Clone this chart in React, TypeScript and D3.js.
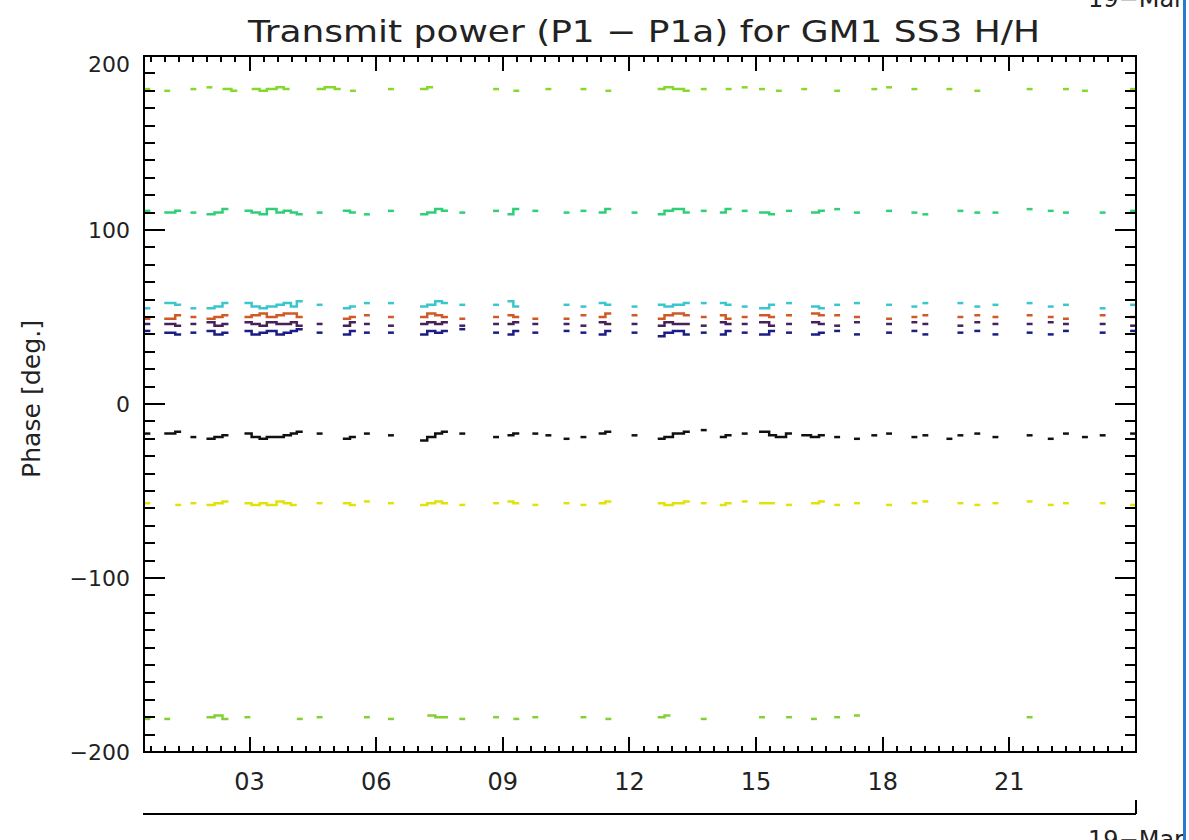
import * as d3 from "d3";

const W = 1189;
const H = 840;
const BOX = { left: 144, right: 1136, top: 56, bottom: 752 };

const N = null;

// sample times (hours of 19-Mar)
const hours = [
  0.58, 0.74, 1.05, 1.31, 1.67, 2.05, 2.24, 2.43, 2.64, 2.95,
  3.12, 3.31, 3.48, 3.71, 3.88, 4.05, 4.19, 4.66, 4.85, 5.09,
  5.28, 5.45, 5.78, 6.35, 7.11, 7.28, 7.47, 7.63, 8.04, 8.84,
  9.18, 9.32, 9.77, 10.08, 10.51, 10.91, 11.34, 11.5, 12.12, 12.74,
  12.9, 13.1, 13.36, 13.76, 14.21, 14.35, 14.73, 15.14, 15.38, 15.54,
  15.78, 16.14, 16.37, 16.56, 16.92, 17.39, 17.8, 18.15, 18.75, 19.01,
  19.58, 19.84, 20.24, 20.67, 21.48, 21.98, 22.34, 22.79, 23.21, 23.93,
];

const greenHigh = [
  181, N, 180, N, 181, 182, N, 181, 180, N,
  181, 180, 181, 182, 181, N, N, 181, 182, 181,
  N, 180, N, 181, 181, 182, N, N, N, 181,
  N, 180, N, 181, N, 181, N, 180, N, 181,
  182, 181, 180, 181, N, 181, 182, 181, N, 180,
  N, 181, N, N, 180, N, 181, 182, 181, N,
  181, N, 180, N, 181, N, 181, 180, N, 181,
];

const seaGreen = [
  111, N, 110, 111, 110, 109, 110, 112, N, 111,
  110, 109, 112, 110, 111, 110, 109, 110, N, N,
  111, 110, 109, 111, 109, 110, 112, 111, 110, 111,
  109, 112, 111, N, 110, 111, 110, 112, 110, 109,
  111, 112, 110, 111, 110, 112, 111, 110, 109, N,
  111, N, 110, 111, 112, 110, N, 111, 110, 109,
  N, 111, 110, 110, 112, 111, 110, N, 110, 111,
];

const cyan = [
  55, N, 58, 57, 55, 55, 56, 58, N, 58,
  56, 55, 56, 57, 58, 56, 59, 57, N, N,
  55, 56, 58, 58, 56, 57, 59, 58, 57, 57,
  59, 56, N, N, 57, 56, 58, 57, 56, 57,
  56, 57, 58, 58, 58, 57, 56, 55, 57, N,
  58, N, 56, 55, 57, 58, N, 57, 56, 58,
  N, 58, 56, 57, 58, 56, 57, N, 55, 57,
];

const orange = [
  49, N, 49, 51, 50, 49, 50, 51, N, 50,
  51, 52, 50, 51, 52, 52, 50, N, N, N,
  49, 50, 51, 50, 50, 52, 51, 50, 49, 50,
  51, 50, 49, N, 49, 51, 50, 52, 51, 49,
  51, 52, 51, 50, 51, 49, 50, 51, 50, N,
  51, N, 52, 51, 51, 50, N, 49, 50, 51,
  N, 50, 51, 50, 51, 50, 49, N, 51, 50,
];

const purple = [
  46, N, 46, 45, 46, 47, 45, 46, N, 47,
  46, 45, 47, 46, 46, 47, 45, 46, N, N,
  45, 47, 46, 45, 46, 47, 46, 47, 45, 46,
  46, 47, 46, N, 46, 45, 47, 46, 46, 45,
  47, 46, 46, 45, 47, 46, 46, 47, 45, N,
  46, N, 47, 46, 45, 47, N, 46, 47, 46,
  N, 45, 47, 46, 46, 47, 46, N, 46, 45,
];

const navy = [
  42, N, 41, 40, 41, 42, 40, 41, N, 42,
  40, 41, 42, 40, 41, 42, 43, 41, N, N,
  40, 42, 41, 41, 40, 42, 41, 42, 43, 41,
  40, 42, 41, N, 42, 41, 40, 42, 41, 39,
  41, 42, 40, 41, 40, 42, 41, 40, 42, N,
  41, N, 40, 41, 42, 40, N, 41, 42, 40,
  N, 41, 42, 40, 41, 40, 42, N, 41, 42,
];

const black = [
  -17, N, -17, -16, -19, -20, -19, -18, N, -17,
  -19, -20, -19, -19, -18, -17, -16, -17, N, N,
  -20, -19, -17, -18, -21, -19, -17, -16, -17, -19,
  -18, -17, -17, -18, -20, -19, -17, -16, -18, -20,
  -19, -17, -16, -15, -19, -18, -17, -16, -18, -19,
  -17, -18, -19, -18, -19, -20, -18, -17, -19, -18,
  -20, -18, -17, -19, -18, -20, -17, -19, -18, -17,
];

const yellow = [
  -57, N, N, -58, -57, -58, -57, -56, N, -57,
  -58, -57, -58, -56, -57, -58, N, -57, N, N,
  -57, -58, -56, -57, -58, -57, -56, -57, -58, -57,
  -56, -57, -58, N, -57, -58, -57, -56, N, -57,
  -58, -57, -56, -57, -58, -57, -56, -57, -57, N,
  -58, N, -57, -56, -58, -57, N, -58, -57, -56,
  N, -57, -58, -57, -56, -58, -57, N, -57, -58,
];

const greenLow = [
  -181, N, -181, N, N, -180, -179, -181, N, -180,
  N, N, N, N, N, N, -181, -180, N, N,
  N, N, -180, -181, N, -179, -180, -180, -181, -180,
  N, -181, -180, N, N, -180, N, -181, N, -180,
  -179, N, N, -181, N, N, N, -180, N, N,
  -180, N, -181, N, -180, -179, N, N, N, N,
  N, N, N, N, -180, N, N, N, N, N,
];

const series = [
  { values: greenHigh, color: "#86d82e" },
  { values: seaGreen, color: "#2fcf78" },
  { values: cyan, color: "#3cc6cc" },
  { values: orange, color: "#cf5a26" },
  { values: purple, color: "#4a2058" },
  { values: navy, color: "#1c1c86" },
  { values: black, color: "#111111" },
  { values: yellow, color: "#e2e20a" },
  { values: greenLow, color: "#84d034" },
];

const yMajor = [-200, -100, 0, 100, 200];
const xMajor = [3, 6, 9, 12, 15, 18, 21];

const HALF = 0.07; // half width of one sample, hours
const GAP = 0.26;

function runsOf(values: (number | null)[]) {
  const out: [number, number][][] = [];
  let cur: [number, number][] = [];
  values.forEach((v, i) => {
    if (v == null) {
      if (cur.length) out.push(cur);
      cur = [];
      return;
    }
    if (cur.length && hours[i] - cur[cur.length - 1][0] > GAP) {
      out.push(cur);
      cur = [];
    }
    cur.push([hours[i], v]);
  });
  if (cur.length) out.push(cur);
  return out;
}

export default function App() {
  const x = d3.scaleLinear().domain([0.5, 24]).range([BOX.left, BOX.right]);
  const y = d3.scaleLinear().domain([-200, 200]).range([BOX.bottom, BOX.top]);

  const line = d3
    .line<[number, number]>()
    .x((d) => x(d[0]))
    .y((d) => y(d[1]))
    .curve(d3.curveStepAfter);

  const xMinor = d3.range(2, 72).map((k) => k / 3).filter((t) => !xMajor.some((m) => Math.abs(m - t) < 1e-6));
  const yMinor = d3.range(-190, 200, 10).filter((v) => v % 100 !== 0);

  const font = "'DejaVu Sans', sans-serif";
  const fmtX = d3.format("02d");

  return (
    <svg width={W} height={H} style={{ position: "absolute", left: 0, top: 0, background: "#fff" }}>
      <rect x={0} y={0} width={W} height={H} fill="#fff" />

      {/* data */}
      {series.map((s, si) => (
        <g key={si}>
          {runsOf(s.values).map((run, ri) => {
            const pts: [number, number][] = run.map((d) => [d[0] - HALF, d[1]] as [number, number]);
            const last = run[run.length - 1];
            pts.push([last[0] + HALF, last[1]]);
            return <path key={ri} d={line(pts) || ""} fill="none" stroke={s.color} strokeWidth={2.5} />;
          })}
        </g>
      ))}

      {/* axes box */}
      <g stroke="#000" strokeWidth={2} shapeRendering="crispEdges">
        <rect x={BOX.left} y={BOX.top} width={BOX.right - BOX.left} height={BOX.bottom - BOX.top} fill="none" />
        {yMajor.map((v) => (
          <g key={v}>
            <line x1={BOX.left} x2={BOX.left + 21} y1={y(v)} y2={y(v)} />
            <line x1={BOX.right} x2={BOX.right - 21} y1={y(v)} y2={y(v)} />
          </g>
        ))}
        {yMinor.map((v) => (
          <g key={v}>
            <line x1={BOX.left} x2={BOX.left + 11} y1={y(v)} y2={y(v)} />
            <line x1={BOX.right} x2={BOX.right - 11} y1={y(v)} y2={y(v)} />
          </g>
        ))}
        {xMajor.map((t) => (
          <g key={t}>
            <line x1={x(t)} x2={x(t)} y1={BOX.bottom} y2={BOX.bottom - 15} />
            <line x1={x(t)} x2={x(t)} y1={BOX.top} y2={BOX.top + 15} />
          </g>
        ))}
        {xMinor.map((t, i) => (
          <g key={i}>
            <line x1={x(t)} x2={x(t)} y1={BOX.bottom} y2={BOX.bottom - 6} />
            <line x1={x(t)} x2={x(t)} y1={BOX.top} y2={BOX.top + 6} />
          </g>
        ))}
        {/* date axis */}
        <line x1={BOX.left - 1} x2={x(24)} y1={814} y2={814} />
        <line x1={x(24)} x2={x(24)} y1={814} y2={800} />
      </g>

      {/* tick labels */}
      <g fontFamily={font} fontSize={22} fill="#222">
        {yMajor.map((v) => (
          <text key={v} x={BOX.left - 14} y={y(v) + (v === 200 ? 16 : 8)} textAnchor="end">
            {d3.format("d")(v)}
          </text>
        ))}
      </g>
      <g fontFamily={font} fontSize={24} fill="#222">
        {xMajor.map((t) => (
          <text key={t} x={x(t)} y={790} textAnchor="middle">
            {fmtX(t)}
          </text>
        ))}
        <text x={x(24)} y={848} textAnchor="middle">19−Mar</text>
        <text x={x(24)} y={7} textAnchor="middle">19−Mar</text>
      </g>

      <text x={644} y={42} textAnchor="middle" fontFamily={font} fontSize={30} fill="#222" textLength={792} lengthAdjust="spacingAndGlyphs">
        Transmit power (P1 − P1a) for GM1 SS3 H/H
      </text>
      <text
        transform={`translate(40, 399) rotate(-90)`}
        textAnchor="middle"
        fontFamily={font}
        fontSize={24}
        fill="#222"
        textLength={158}
        lengthAdjust="spacingAndGlyphs"
      >
        Phase [deg.]
      </text>

      {/* window frame edge */}
      <rect x={1183} y={0} width={3} height={H} fill="#2b78cf" />
    </svg>
  );
}
